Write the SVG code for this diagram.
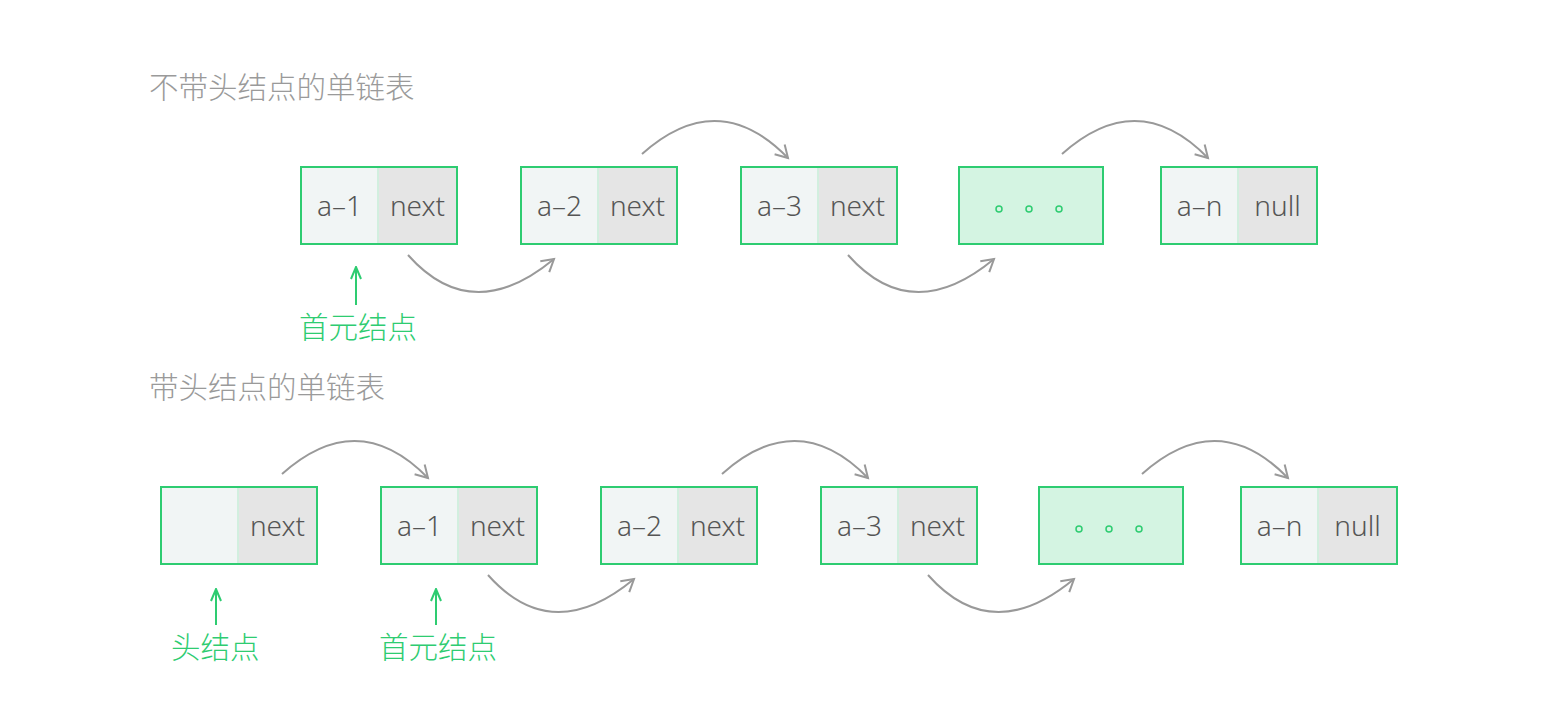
<svg xmlns="http://www.w3.org/2000/svg" width="1542" height="704" viewBox="0 0 1542 704">
<defs>
<style>
.title{font-family:"Noto Sans CJK SC","Noto Sans",sans-serif;font-size:29.5px;font-weight:300;fill:#9a9a9a}
.lbl{font-family:"Noto Sans CJK SC","Noto Sans",sans-serif;font-size:29.5px;font-weight:300;fill:#2ecc71}
.t{font-family:"Noto Sans","Liberation Sans",sans-serif;font-size:28px;font-weight:300;fill:#555;text-anchor:middle}
.l{fill:#f1f5f5}
.r{fill:#e5e5e5}
.b{fill:none;stroke:#2ecc71;stroke-width:2}
.dv{stroke:#d2efdf;stroke-width:2}
.e{fill:#d4f4e2;stroke:#2ecc71;stroke-width:2}
.dot{fill:none;stroke:#2ecc71;stroke-width:1.5}
.c{fill:none;stroke:#999;stroke-width:2}
.up{fill:none;stroke:#2ecc71;stroke-width:2}
</style>
<marker id="ah" markerWidth="20" markerHeight="20" refX="14" refY="8" orient="auto" markerUnits="userSpaceOnUse">
<path d="M2,1 L14,8 L2,15" fill="none" stroke="#999" stroke-width="2"/>
</marker>
<marker id="gh" markerWidth="20" markerHeight="20" refX="7" refY="1" orient="0" markerUnits="userSpaceOnUse">
<path d="M2,13 L7,1 L12,13" fill="none" stroke="#2ecc71" stroke-width="2"/>
</marker>
</defs>
<rect width="1542" height="704" fill="#fff"/>
<text class="title" x="149" y="98">不带头结点的单链表</text>
<text class="title" x="149" y="398">带头结点的单链表</text>

<g id="top-a1"><rect class="l" x="301" y="167" width="77" height="77"/><rect class="r" x="378" y="167" width="79" height="77"/><line class="dv" x1="378" y1="168" x2="378" y2="243"/><rect class="b" x="301" y="167" width="156" height="77"/><text class="t" x="339.5" y="216">a–1</text><text class="t" x="417.5" y="216">next</text></g>
<g id="top-a2"><rect class="l" x="521" y="167" width="77" height="77"/><rect class="r" x="598" y="167" width="79" height="77"/><line class="dv" x1="598" y1="168" x2="598" y2="243"/><rect class="b" x="521" y="167" width="156" height="77"/><text class="t" x="559.5" y="216">a–2</text><text class="t" x="637.5" y="216">next</text></g>
<g id="top-a3"><rect class="l" x="741" y="167" width="77" height="77"/><rect class="r" x="818" y="167" width="79" height="77"/><line class="dv" x1="818" y1="168" x2="818" y2="243"/><rect class="b" x="741" y="167" width="156" height="77"/><text class="t" x="779.5" y="216">a–3</text><text class="t" x="857.5" y="216">next</text></g>
<g id="top-ellipsis"><rect class="e" x="959" y="167" width="144" height="77"/><circle class="dot" cx="999" cy="209" r="3"/><circle class="dot" cx="1029" cy="209" r="3"/><circle class="dot" cx="1059" cy="209" r="3"/></g>
<g id="top-an"><rect class="l" x="1161" y="167" width="77" height="77"/><rect class="r" x="1238" y="167" width="79" height="77"/><line class="dv" x1="1238" y1="168" x2="1238" y2="243"/><rect class="b" x="1161" y="167" width="156" height="77"/><text class="t" x="1199.5" y="216">a–n</text><text class="t" x="1277.5" y="216">null</text></g>

<g id="bot-head"><rect class="l" x="161" y="487" width="77" height="77"/><rect class="r" x="238" y="487" width="79" height="77"/><line class="dv" x1="238" y1="488" x2="238" y2="563"/><rect class="b" x="161" y="487" width="156" height="77"/><text class="t" x="277.5" y="536">next</text></g>
<g id="bot-a1"><rect class="l" x="381" y="487" width="77" height="77"/><rect class="r" x="458" y="487" width="79" height="77"/><line class="dv" x1="458" y1="488" x2="458" y2="563"/><rect class="b" x="381" y="487" width="156" height="77"/><text class="t" x="419.5" y="536">a–1</text><text class="t" x="497.5" y="536">next</text></g>
<g id="bot-a2"><rect class="l" x="601" y="487" width="77" height="77"/><rect class="r" x="678" y="487" width="79" height="77"/><line class="dv" x1="678" y1="488" x2="678" y2="563"/><rect class="b" x="601" y="487" width="156" height="77"/><text class="t" x="639.5" y="536">a–2</text><text class="t" x="717.5" y="536">next</text></g>
<g id="bot-a3"><rect class="l" x="821" y="487" width="77" height="77"/><rect class="r" x="898" y="487" width="79" height="77"/><line class="dv" x1="898" y1="488" x2="898" y2="563"/><rect class="b" x="821" y="487" width="156" height="77"/><text class="t" x="859.5" y="536">a–3</text><text class="t" x="937.5" y="536">next</text></g>
<g id="bot-ellipsis"><rect class="e" x="1039" y="487" width="144" height="77"/><circle class="dot" cx="1079" cy="529" r="3"/><circle class="dot" cx="1109" cy="529" r="3"/><circle class="dot" cx="1139" cy="529" r="3"/></g>
<g id="bot-an"><rect class="l" x="1241" y="487" width="77" height="77"/><rect class="r" x="1318" y="487" width="79" height="77"/><line class="dv" x1="1318" y1="488" x2="1318" y2="563"/><rect class="b" x="1241" y="487" width="156" height="77"/><text class="t" x="1279.5" y="536">a–n</text><text class="t" x="1357.5" y="536">null</text></g>

<g id="labels">
<text class="lbl" x="299" y="338">首元结点</text>
<text class="lbl" x="171" y="658">头结点</text>
<text class="lbl" x="379" y="658">首元结点</text>
</g>

<g id="connectors">
<path class="c" marker-end="url(#ah)" d="M408,255 Q472,327 554,259"/>
<path class="c" marker-end="url(#ah)" d="M642,154 Q718,86 788,158"/>
<path class="c" marker-end="url(#ah)" d="M848,255 Q912,327 994,259"/>
<path class="c" marker-end="url(#ah)" d="M1062,154 Q1138,86 1208,158"/>
<path class="c" marker-end="url(#ah)" d="M282,474 Q358,406 428,478"/>
<path class="c" marker-end="url(#ah)" d="M488,575 Q552,647 634,579"/>
<path class="c" marker-end="url(#ah)" d="M722,474 Q798,406 868,478"/>
<path class="c" marker-end="url(#ah)" d="M928,575 Q992,647 1074,579"/>
<path class="c" marker-end="url(#ah)" d="M1142,474 Q1218,406 1288,478"/>
<path class="up" marker-end="url(#gh)" d="M356,305 L356,267"/>
<path class="up" marker-end="url(#gh)" d="M216,625 L216,589"/>
<path class="up" marker-end="url(#gh)" d="M436,625 L436,589"/>
</g>
</svg>
